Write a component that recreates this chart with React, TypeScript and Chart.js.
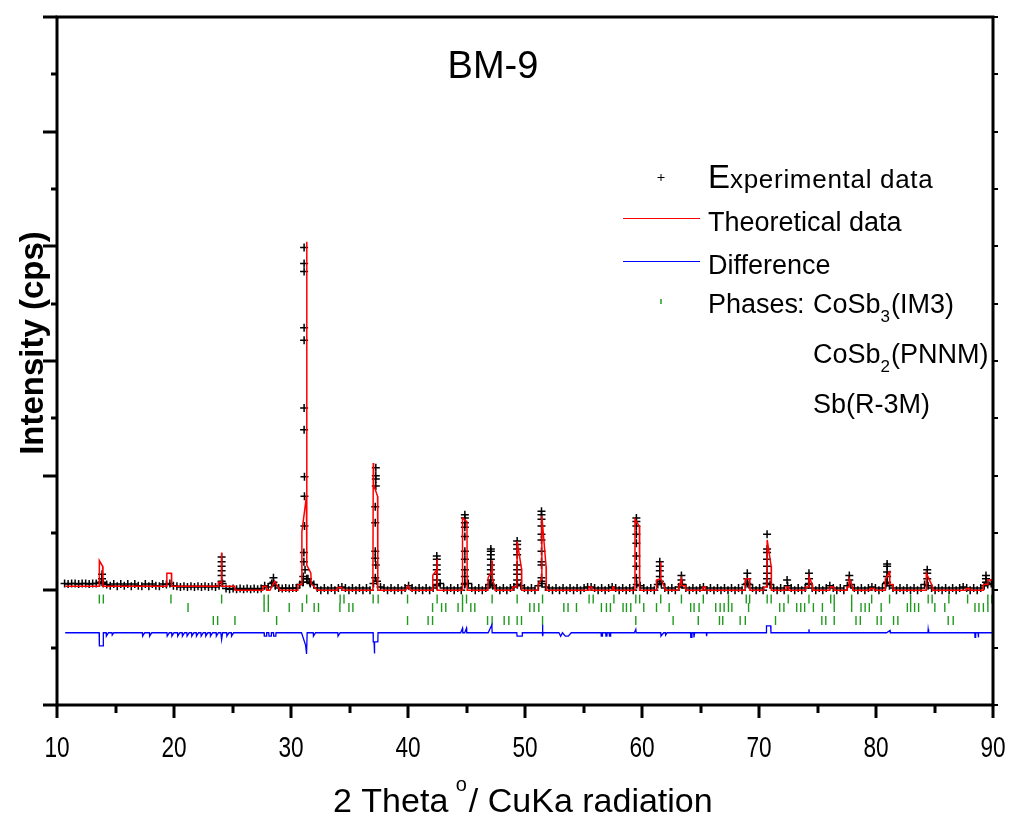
import React, { useEffect, useRef } from 'react';
import { Chart, registerables } from 'chart.js';

Chart.register(...registerables);

const FONT = "'Liberation Sans', Arial, sans-serif";

// ---------- data (intensity in kcps, 2-theta in degrees) ----------
const xTickLabels = [10, 20, 30, 40, 50, 60, 70, 80, 90];

// scan grid of the background observations
const scanStart = 10.65;
const scanStep = 0.3;
const observedBackground = [
  1.06, 1.055, 1.06, 1.06, 1.055, 1.06, 1.06, 1.055, 1.06, 1.06,
  1.07, 1.06, 1.05, 1.04, 1.055, 1.035, 1.055, 1.04, 1.055, 1.035,
  1.055, 1.04, 1.035, 1.055, 1.035, 1.055, 1.04, 1.035, 1.055, 1.05,
  1.06, 1.04, 1.035, 1.03, 1.035, 1.03, 1.035, 1.03, 1.035, 1.03,
  1.035, 1.03, 1.035, 1.03, 1.04, 1.06, 1.015, 1.01, 1.015, 1.01,
  1.015, 1.01, 1.015, 1.01, 1.015, 1.01, 1.015, 1.04, 1.03, 1.06,
  1.04, 1.02, 1.015, 1.02, 1.015, 1.02, 1.02, 1.05, 1.07, 1.1,
  1.06, 1.05, 1.02, 1.0, 1.02, 1.0, 1.02, 1.0, 1.02, 1.03,
  1.02, 1.0, 1.02, 1.0, 1.02, 1.0, 1.02, 1.0, 1.06, 1.08,
  1.03, 1.02, 1.0, 1.02, 1.0, 1.02, 1.0, 1.02, 1.04, 1.02,
  1.0, 1.02, 1.0, 1.02, 1.0, 1.02, 1.04, 1.06, 1.02, 1.0,
  1.02, 1.0, 1.02, 1.0, 1.05, 1.06, 1.02, 1.0, 1.02, 1.0,
  1.02, 1.05, 1.04, 1.02, 1.0, 1.02, 1.0, 1.02, 1.03, 1.05,
  1.04, 1.02, 1.0, 1.02, 1.0, 1.04, 1.06, 1.03, 1.02, 1.0,
  1.02, 1.0, 1.02, 1.0, 1.02, 1.0, 1.02, 1.0, 1.02, 1.03,
  1.03, 1.02, 1.0, 1.02, 1.0, 1.02, 1.03, 1.02, 1.0, 1.02,
  1.0, 1.02, 1.0, 1.05, 1.04, 1.02, 1.0, 1.02, 1.0, 1.05,
  1.06, 1.02, 1.0, 1.02, 1.0, 1.03, 1.05, 1.02, 1.0, 1.02,
  1.0, 1.02, 1.03, 1.0, 1.02, 1.0, 1.02, 1.0, 1.02, 1.0,
  1.02, 1.0, 1.02, 1.0, 1.05, 1.05, 1.02, 1.0, 1.02, 1.0,
  1.06, 1.05, 1.02, 1.0, 1.02, 1.0, 1.04, 1.02, 1.0, 1.02,
  1.0, 1.02, 1.05, 1.02, 1.0, 1.02, 1.0, 1.02, 1.04, 1.02,
  1.0, 1.02, 1.0, 1.04, 1.05, 1.02, 1.0, 1.02, 1.0, 1.02,
  1.03, 1.02, 1.0, 1.02, 1.06, 1.04, 1.02, 1.0, 1.02, 1.0,
  1.02, 1.0, 1.02, 1.0, 1.02, 1.05, 1.04, 1.02, 1.0, 1.02,
  1.0, 1.02, 1.0, 1.02, 1.0, 1.02, 1.03, 1.02, 1.0, 1.02,
  1.0, 1.02, 1.04, 1.05, 1.06,
];

// observed points on the Bragg peaks: [2theta, intensity]
const observedPeaks: [number, number][] = [
  [13.85, 1.14], [13.85, 1.1], [13.85, 1.07],
  [24.07, 1.29], [24.07, 1.25], [24.07, 1.21], [24.07, 1.17], [24.07, 1.13], [24.07, 1.08],
  [28.5, 1.11], [28.5, 1.07],
  [31.12, 3.99], [31.12, 3.85], [31.12, 3.78], [31.12, 3.29], [31.12, 3.18], [31.12, 2.59],
  [31.12, 2.4], [31.15, 1.99], [31.15, 1.82], [31.15, 1.56], [31.1, 1.33], [31.1, 1.25],
  [31.2, 1.18], [31.05, 1.12], [31.0, 1.07], [31.45, 1.1], [31.6, 1.07],
  [37.25, 2.07], [37.25, 2.0], [37.25, 1.97], [37.25, 1.91], [37.2, 1.73], [37.2, 1.59],
  [37.2, 1.34], [37.2, 1.28], [37.25, 1.22], [37.2, 1.11],
  [42.46, 1.3], [42.46, 1.27], [42.46, 1.22], [42.46, 1.18], [42.46, 1.14], [42.46, 1.09], [42.46, 1.05],
  [44.86, 1.66], [44.86, 1.63], [44.86, 1.59], [44.86, 1.55], [44.86, 1.47], [44.86, 1.34],
  [44.86, 1.27], [44.86, 1.18], [44.86, 1.12], [44.86, 1.06],
  [47.08, 1.36], [47.08, 1.34], [47.08, 1.31], [47.08, 1.27], [47.08, 1.22], [47.08, 1.18],
  [47.08, 1.14], [47.08, 1.09], [47.08, 1.05],
  [49.33, 1.43], [49.33, 1.4], [49.33, 1.36], [49.33, 1.31], [49.33, 1.22], [49.33, 1.18],
  [49.33, 1.14], [49.33, 1.09], [49.33, 1.05],
  [51.41, 1.69], [51.41, 1.66], [51.41, 1.62], [51.41, 1.56], [51.41, 1.49], [51.41, 1.44],
  [51.41, 1.34], [51.41, 1.25], [51.41, 1.22], [51.41, 1.11], [51.41, 1.08],
  [59.52, 1.63], [59.52, 1.6], [59.52, 1.56], [59.52, 1.49], [59.52, 1.41], [59.52, 1.3],
  [59.52, 1.21], [59.52, 1.11],
  [61.52, 1.25], [61.52, 1.21], [61.52, 1.17], [61.52, 1.12], [61.52, 1.08],
  [63.37, 1.13], [63.37, 1.09], [63.37, 1.05],
  [69.0, 1.15], [69.0, 1.1], [69.0, 1.06],
  [70.69, 1.49], [70.69, 1.36], [70.69, 1.33], [70.69, 1.27], [70.69, 1.21], [70.69, 1.15],
  [70.69, 1.1], [70.69, 1.06],
  [72.4, 1.09],
  [74.27, 1.15], [74.27, 1.1], [74.27, 1.06],
  [77.72, 1.13], [77.72, 1.09],
  [80.95, 1.23], [80.95, 1.21], [80.95, 1.16], [80.95, 1.12], [80.95, 1.07],
  [84.38, 1.18], [84.38, 1.15], [84.38, 1.1],
  [89.4, 1.13], [89.4, 1.1], [89.4, 1.07],
];

// calculated (Rietveld) profile vertices: [2theta, intensity]
const theoretical: [number, number][] = [
  [10.7, 1.035], [13.6, 1.035], [13.62, 1.26], [13.9, 1.21], [13.93, 1.035],
  [19.37, 1.035], [19.39, 1.15], [19.78, 1.15], [19.8, 1.035],
  [23.77, 1.035], [23.79, 1.07], [24.05, 1.07], [24.07, 1.33], [24.09, 1.035], [25.18, 1.035], [25.22, 1.0],
  [27.6, 1.0], [27.62, 1.035], [27.9, 1.035], [27.92, 1.0], [28.2, 1.0], [28.6, 1.08], [29.05, 1.0],
  [30.58, 1.0], [30.6, 1.05], [30.91, 1.05], [30.93, 1.51], [31.32, 1.82], [31.34, 4.04],
  [31.36, 1.22], [31.7, 1.15], [31.72, 1.06], [32.25, 1.0],
  [33.98, 1.0], [34.0, 1.025], [34.35, 1.025], [34.37, 1.0],
  [37.0, 1.0], [37.03, 2.11], [37.06, 1.92], [37.4, 1.82], [37.42, 1.0],
  [39.8, 1.0], [40.0, 1.04], [40.2, 1.0],
  [42.1, 1.0], [42.12, 1.13], [42.47, 1.18], [42.48, 1.27], [42.5, 1.0],
  [44.64, 1.0], [44.66, 1.63], [45.04, 1.6], [45.06, 1.0],
  [46.83, 1.0], [46.85, 1.11], [47.17, 1.17], [47.19, 1.26], [47.21, 1.11], [47.42, 1.02], [47.44, 1.0],
  [48.93, 1.0], [48.95, 1.03], [49.31, 1.03], [49.33, 1.43], [49.7, 1.19], [49.72, 1.0],
  [51.1, 1.0], [51.12, 1.05], [51.42, 1.1], [51.44, 1.65], [51.8, 1.21], [51.82, 1.0],
  [55.45, 1.0], [55.47, 1.03], [55.7, 1.03], [55.72, 1.0],
  [57.48, 1.0], [57.5, 1.03], [57.6, 1.03], [57.62, 1.0],
  [59.38, 1.0], [59.4, 1.62], [59.78, 1.56], [59.8, 1.0],
  [61.22, 1.0], [61.24, 1.09], [61.58, 1.1], [61.6, 1.25], [61.62, 1.1], [61.95, 1.02], [61.97, 1.0],
  [63.08, 1.0], [63.37, 1.1], [63.4, 1.04], [63.72, 1.04], [63.74, 1.0],
  [65.2, 1.0], [65.22, 1.03], [65.4, 1.03], [65.42, 1.0],
  [68.8, 1.0], [68.83, 1.1], [69.2, 1.1], [69.22, 1.0],
  [70.4, 1.0], [70.42, 1.03], [70.68, 1.03], [70.7, 1.44], [71.04, 1.21], [71.06, 1.0],
  [72.3, 1.0], [72.32, 1.03], [72.5, 1.03], [72.52, 1.0],
  [74.0, 1.0], [74.02, 1.03], [74.25, 1.03], [74.27, 1.12], [74.56, 1.05], [74.58, 1.0],
  [76.05, 1.0], [76.07, 1.03], [76.4, 1.03], [76.42, 1.0],
  [77.52, 1.0], [77.54, 1.03], [77.7, 1.03], [77.72, 1.1], [78.0, 1.03], [78.02, 1.0],
  [79.5, 1.0], [79.52, 1.015], [79.85, 1.015], [79.87, 1.0],
  [80.78, 1.0], [80.8, 1.1], [81.16, 1.16], [81.18, 1.05], [81.44, 1.05], [81.46, 1.0],
  [84.28, 1.0], [84.3, 1.15], [84.8, 1.04], [84.82, 1.0],
  [87.7, 1.0], [87.72, 1.015], [88.0, 1.015], [88.02, 1.0],
  [89.15, 1.0], [89.18, 1.05], [89.55, 1.05], [89.57, 1.09], [89.92, 1.09],
];

// difference curve (observed - calculated, shifted): [2theta, value]
const difference: [number, number][] = [
  [10.7, 0.63], [13.6, 0.63], [13.62, 0.515], [13.94, 0.515], [13.96, 0.63],
  [14.2, 0.63], [14.22, 0.6], [14.4, 0.63], [14.7, 0.63], [14.72, 0.61], [14.85, 0.63],
  [17.3, 0.63], [17.32, 0.6], [17.5, 0.63], [17.9, 0.63], [17.92, 0.6], [18.1, 0.63],
  [19.4, 0.63], [19.42, 0.6], [19.6, 0.63], [19.8, 0.63], [19.82, 0.6], [20.0, 0.63],
  [20.3, 0.63], [20.32, 0.6], [20.5, 0.63], [20.7, 0.63], [20.72, 0.6], [20.9, 0.63],
  [21.1, 0.63], [21.12, 0.6], [21.3, 0.63], [21.5, 0.63], [21.52, 0.6], [21.7, 0.63],
  [21.9, 0.63], [21.92, 0.6], [22.1, 0.63], [22.3, 0.63], [22.32, 0.6], [22.5, 0.63],
  [22.7, 0.63], [22.72, 0.6], [22.9, 0.63], [23.1, 0.63], [23.12, 0.6], [23.3, 0.63],
  [23.6, 0.63], [23.62, 0.6], [23.8, 0.63], [24.0, 0.63], [24.07, 0.57], [24.15, 0.63],
  [24.5, 0.63], [24.52, 0.6], [24.7, 0.63], [24.9, 0.63], [24.92, 0.6], [25.1, 0.63],
  [27.7, 0.63], [27.72, 0.6], [27.9, 0.6], [27.92, 0.63], [28.1, 0.63], [28.12, 0.6],
  [28.3, 0.6], [28.32, 0.63], [28.5, 0.63], [28.52, 0.6], [28.7, 0.6], [28.72, 0.63],
  [30.9, 0.63], [31.25, 0.52], [31.33, 0.445], [31.38, 0.63], [31.9, 0.63], [31.92, 0.6], [32.1, 0.63],
  [34.0, 0.63], [34.02, 0.6], [34.2, 0.63],
  [37.02, 0.63], [37.03, 0.55], [37.1, 0.55], [37.12, 0.45], [37.16, 0.55], [37.42, 0.55], [37.44, 0.63],
  [44.5, 0.63], [44.66, 0.67], [44.68, 0.63], [44.85, 0.63], [45.0, 0.67], [45.02, 0.63],
  [46.85, 0.63], [47.17, 0.7], [47.19, 0.63],
  [49.3, 0.63], [49.32, 0.6], [49.75, 0.6], [49.77, 0.63],
  [51.48, 0.63], [51.5, 0.7], [51.52, 0.6], [51.56, 0.63],
  [52.9, 0.63], [53.05, 0.6], [53.2, 0.63], [53.45, 0.6], [53.7, 0.6], [53.95, 0.63],
  [56.5, 0.63], [56.52, 0.6], [56.6, 0.6], [56.62, 0.63], [56.9, 0.63], [56.92, 0.6],
  [57.0, 0.6], [57.02, 0.63], [57.2, 0.63], [57.22, 0.6], [57.3, 0.6], [57.32, 0.63],
  [59.35, 0.63], [59.47, 0.66], [59.5, 0.63],
  [61.6, 0.63], [61.62, 0.6], [61.85, 0.63], [62.0, 0.63], [62.02, 0.61], [62.15, 0.63],
  [64.15, 0.63], [64.17, 0.59], [64.25, 0.59], [64.27, 0.63], [64.42, 0.63], [64.44, 0.59], [64.5, 0.63],
  [65.5, 0.63], [65.52, 0.6], [65.56, 0.63],
  [70.62, 0.63], [70.64, 0.69], [71.0, 0.69], [71.02, 0.63],
  [74.25, 0.63], [74.27, 0.66], [74.3, 0.63],
  [80.9, 0.63], [81.2, 0.65], [81.22, 0.63],
  [84.44, 0.63], [84.46, 0.66], [84.5, 0.63],
  [88.44, 0.63], [88.46, 0.59], [88.5, 0.59], [88.52, 0.63], [88.72, 0.63], [88.74, 0.59], [88.78, 0.63],
  [89.95, 0.63],
];

// Bragg reflection positions of the three phases (2theta)
const phaseCoSb3 = [
  13.62, 13.96, 19.74, 24.07, 27.7, 28.06, 31.34, 34.2, 34.53, 37.02, 37.45, 39.96, 42.49,
  44.66, 45.0, 47.19, 49.33, 51.5, 55.48, 55.83, 57.6, 59.47, 59.8, 61.6, 63.37, 65.24,
  67.39, 68.91, 69.2, 70.7, 71.04, 72.5, 74.27, 76.13, 76.43, 77.92, 79.63, 81.16, 82.96,
  84.46, 84.8, 86.23, 87.83, 89.56, 89.9,
];
const phaseCoSb2 = [
  21.2, 27.7, 28.06, 29.85, 30.96, 31.98, 32.35, 34.18, 34.95, 35.29, 42.1, 42.87, 43.23,
  44.28, 44.66, 45.37, 45.71, 50.41, 50.78, 51.18, 53.32, 53.68, 54.4, 56.53, 56.96, 57.3,
  58.38, 58.67, 59.04, 60.15, 61.24, 62.32, 64.16, 64.45, 64.88, 66.3, 66.68, 67.02, 67.39,
  67.68, 69.11, 71.77, 72.13, 73.22, 73.57, 73.9, 74.65, 75.42, 76.43, 77.92, 78.72, 79.07,
  79.43, 80.44, 82.68, 82.96, 83.3, 83.64, 85.03, 85.88, 88.46, 88.8, 89.18, 89.56,
];
const phaseSb = [
  23.36, 23.73, 25.21, 28.77, 39.96, 41.72, 42.1, 46.8, 47.19, 48.22, 48.62, 49.33, 49.7,
  51.5, 59.47, 62.66, 64.81, 66.62, 66.9, 68.39, 68.83, 71.41, 75.37, 75.71, 76.43, 78.29,
  78.66, 80.1, 80.44, 81.5, 81.87, 86.17, 86.6,
];
// level (in intensity units) at which each phase's reflection row is drawn
const phaseRowLevels = [0.924, 0.85, 0.737];

const RED = '#ff0000';
const BLUE = '#0000ff';
const GREEN = '#1f9a1f';

const overlayPlugin = {
  id: 'originStyle',
  afterDraw(chart: any) {
    const { ctx, chartArea } = chart;
    const { left, right, top, bottom } = chartArea;
    const xs = chart.scales.x;
    const ys = chart.scales.y;
    ctx.save();
    ctx.strokeStyle = '#000';
    ctx.fillStyle = '#000';
    const line = (x1: number, y1: number, x2: number, y2: number) => {
      ctx.beginPath();
      ctx.moveTo(x1, y1);
      ctx.lineTo(x2, y2);
      ctx.stroke();
    };
    // frame
    ctx.lineWidth = 3;
    ctx.strokeRect(left, top, right - left, bottom - top);
    // left ticks (outward) and right ticks
    for (let v = 0; v <= 6.001; v += 0.5) {
      const y = Math.round(ys.getPixelForValue(v));
      const major = Math.abs(v - Math.round(v)) < 1e-6;
      ctx.lineWidth = 3;
      line(left - (major ? 14 : 6), y, left, y);
      ctx.lineWidth = 2;
      line(right, y, right + 5, y);
    }
    // bottom ticks
    for (let t = 10; t <= 90; t += 5) {
      const x = Math.round(xs.getPixelForValue(t));
      const major = t % 10 === 0;
      ctx.lineWidth = 3;
      line(x, bottom, x, bottom + (major ? 13 : 8));
    }
    // x tick labels (condensed face)
    ctx.font = `29px ${FONT}`;
    ctx.textAlign = 'center';
    ctx.textBaseline = 'alphabetic';
    xTickLabels.forEach((t) => {
      ctx.save();
      ctx.translate(xs.getPixelForValue(t), 757);
      ctx.scale(0.78, 1);
      ctx.fillText(String(t), 0, 0);
      ctx.restore();
    });
    // x axis title
    ctx.textAlign = 'left';
    let tx = 333;
    ctx.font = `34px ${FONT}`;
    ctx.fillText('2 Theta ', tx, 812);
    tx += ctx.measureText('2 Theta ').width;
    ctx.font = `20px ${FONT}`;
    ctx.fillText('o', tx - 2, 791);
    tx += ctx.measureText('o').width;
    ctx.font = `34px ${FONT}`;
    ctx.fillText('/ CuKa radiation', tx, 812);
    // y axis title
    ctx.save();
    ctx.translate(34, 343);
    ctx.rotate(-Math.PI / 2);
    ctx.font = `bold 33px ${FONT}`;
    ctx.textAlign = 'center';
    ctx.textBaseline = 'middle';
    ctx.fillText('Intensity (cps)', 0, 0);
    ctx.restore();
    // sample name
    ctx.font = `38px ${FONT}`;
    ctx.textAlign = 'center';
    ctx.fillText('BM-9', 493, 78);

    // legend
    ctx.textAlign = 'left';
    ctx.lineWidth = 1;
    line(657.5, 177.5, 664.5, 177.5);
    line(661, 174, 661, 181);
    ctx.font = `33px ${FONT}`;
    ctx.fillText('E', 708, 188);
    const lx = 708 + ctx.measureText('E').width;
    ctx.font = `26px ${FONT}`;
    (ctx as any).letterSpacing = '0.7px';
    ctx.fillText('xperimental data', lx, 188);
    (ctx as any).letterSpacing = '0px';
    ctx.strokeStyle = RED;
    ctx.lineWidth = 1.2;
    line(623, 218.5, 700, 218.5);
    ctx.font = `27px ${FONT}`;
    ctx.fillText('Theoretical data', 708, 231);
    ctx.strokeStyle = BLUE;
    line(623, 261.5, 700, 261.5);
    ctx.fillText('Difference', 708, 274);
    ctx.strokeStyle = GREEN;
    ctx.lineWidth = 1.5;
    line(661, 299, 661, 304);
    ctx.fillText('Phases', 708, 313);
    ctx.fillText(':', 797, 313);
    const formula = (base: string, sub: string, rest: string, x: number, y: number) => {
      ctx.font = `27px ${FONT}`;
      ctx.fillText(base, x, y);
      let px = x + ctx.measureText(base).width;
      ctx.font = `17px ${FONT}`;
      ctx.fillText(sub, px, y + 9);
      px += ctx.measureText(sub).width + 1;
      ctx.font = `27px ${FONT}`;
      ctx.fillText(rest, px, y);
    };
    formula('CoSb', '3', '(IM3)', 813, 313);
    formula('CoSb', '2', '(PNNM)', 813, 363);
    ctx.font = `27px ${FONT}`;
    ctx.fillText('Sb(R-3M)', 813, 413);
    ctx.restore();
  },
};

export default function App() {
  const canvasRef = useRef<HTMLCanvasElement | null>(null);

  useEffect(() => {
    const canvas = canvasRef.current;
    if (!canvas) return;
    const observed = [
      ...observedBackground.map((y, i) => ({ x: scanStart + i * scanStep, y })),
      ...observedPeaks.map(([x, y]) => ({ x, y })),
    ];
    const phases = [phaseCoSb3, phaseCoSb2, phaseSb];
    const chart = new Chart(canvas, {
      type: 'scatter',
      data: {
        datasets: [
          {
            label: 'Theoretical data',
            data: theoretical.map(([x, y]) => ({ x, y })),
            showLine: true,
            borderColor: RED,
            borderWidth: 1.5,
            pointRadius: 0,
            tension: 0,
            order: 0,
          },
          {
            label: 'Experimental data',
            data: observed,
            showLine: false,
            pointStyle: 'cross',
            pointRadius: 4,
            borderColor: '#000',
            borderWidth: 1.5,
            order: 1,
          },
          {
            label: 'Difference',
            data: difference.map(([x, y]) => ({ x, y })),
            showLine: true,
            borderColor: BLUE,
            borderWidth: 1.3,
            pointRadius: 0,
            tension: 0,
            order: 2,
          },
          ...phases.map((list, k) => ({
            label: ['CoSb3 (IM3)', 'CoSb2 (PNNM)', 'Sb (R-3M)'][k],
            data: list.map((x) => ({ x, y: phaseRowLevels[k] })),
            showLine: false,
            pointStyle: 'line' as const,
            rotation: 90,
            pointRadius: 4.5,
            borderColor: GREEN,
            borderWidth: 1.4,
            order: 3,
          })),
        ] as any,
      },
      options: {
        animation: false,
        responsive: false,
        devicePixelRatio: 1,
        events: [],
        layout: { padding: { left: 57, right: 17, top: 17, bottom: 111 } },
        scales: {
          x: { type: 'linear', min: 10, max: 90, display: false },
          y: { type: 'linear', min: 0, max: 6, display: false },
        },
        plugins: {
          legend: { display: false },
          tooltip: { enabled: false },
          title: { display: false },
        },
      },
      plugins: [overlayPlugin],
    });
    return () => chart.destroy();
  }, []);

  return (
    <div style={{ position: 'fixed', left: 0, top: 0, width: 1010, height: 816, background: '#fff' }}>
      <canvas ref={canvasRef} width={1010} height={816} />
    </div>
  );
}
